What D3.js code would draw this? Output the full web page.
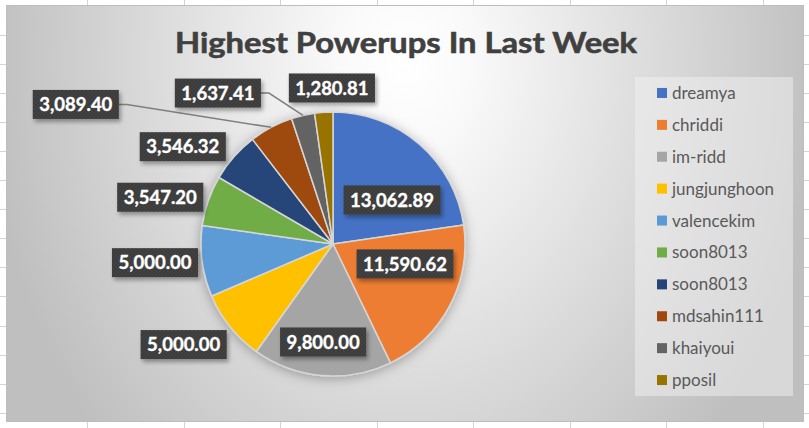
<!DOCTYPE html>
<html>
<head>
<meta charset="utf-8">
<script src="https://cdn.jsdelivr.net/npm/d3@7"></script>
<style>
  html, body { margin: 0; padding: 0; background: #fff; }
  svg { display: block; }
</style>
</head>
<body>
<div id="chart"></div>
<script>
'use strict';

// Chart data
var names = ['dreamya', 'chriddi', 'im-ridd', 'jungjunghoon', 'valencekim',
  'soon8013', 'soon8013', 'mdsahin111', 'khaiyoui', 'pposil'];
var powerups = [13062.89, 11590.62, 9800.00, 5000.00, 5000.00,
  3547.20, 3546.32, 3089.40, 1637.41, 1280.81];
var title = 'Highest Powerups In Last Week';

// Office palette
var colors = ['#4472C4', '#ED7D31', '#A5A5A5', '#FFC000', '#5B9BD5',
  '#70AD47', '#264478', '#9E480E', '#636363', '#997300'];

// Label placement (radius factor and angle nudge from slice middle, degrees)
var labelRadius = [0.558, 0.566, 0.746, 1.364, 1.356, 1.356, 1.356, 2.217, 1.438, 1.182];
var labelNudge = [12.4, -12.5, 0.9, 4.9, 1.6, -4, -8.4, -33.6, -24.2, 3.6];
var hasLeader = [false, false, false, false, false, false, false, true, true, false];

var W = 809, H = 428;
var frame = { x: 6, y: 5, w: 798, h: 417 };
var cx = 333, cy = 244, R = 132;

var svg = d3.select('#chart').append('svg').attr('width', W).attr('height', H);
var defs = svg.append('defs');

// Spreadsheet grid behind the chart
var grid = svg.append('g').attr('stroke', '#d4d4d4').attr('stroke-width', 1);
d3.range(0, 9).forEach(function(k) {
  var x = Math.round(87 + 96.57 * k) + 0.5;
  grid.append('line').attr('x1', x).attr('x2', x).attr('y1', 0).attr('y2', H);
});
d3.range(0, 15).forEach(function(k) {
  var y = Math.round(35 + 29.05 * k) + 0.5;
  grid.append('line').attr('x1', 0).attr('x2', W).attr('y1', y).attr('y2', y);
});

// Chart area background
var bg = defs.append('radialGradient').attr('id', 'bgGrad')
  .attr('gradientUnits', 'userSpaceOnUse')
  .attr('cx', 405).attr('cy', 60).attr('r', 420)
  .attr('gradientTransform', 'translate(405,60) scale(1,1.3) translate(-405,-60)');
bg.append('stop').attr('offset', 0).attr('stop-color', '#ffffff');
bg.append('stop').attr('offset', 0.15).attr('stop-color', '#fafafa');
bg.append('stop').attr('offset', 1).attr('stop-color', '#bfbfbf');

svg.append('rect')
  .attr('x', frame.x).attr('y', frame.y).attr('width', frame.w).attr('height', frame.h)
  .attr('fill', 'url(#bgGrad)');
svg.append('rect')
  .attr('x', frame.x + 0.5).attr('y', frame.y + 0.5).attr('width', frame.w - 1).attr('height', frame.h - 1)
  .attr('fill', 'none').attr('stroke', '#bdbdbd').attr('stroke-width', 1);

// Title
var titleText = svg.append('text')
  .attr('x', 406).attr('y', 53)
  .attr('text-anchor', 'middle')
  .attr('font-family', 'Lato, "Open Sans", sans-serif')
  .attr('font-weight', 'bold')
  .attr('font-size', 28.5)
  .attr('fill', '#404040')
  .attr('stroke', '#404040')
  .attr('stroke-width', 0.6)
  .text(title);
titleText.attr('textLength', 462).attr('lengthAdjust', 'spacingAndGlyphs');

// Filters and pattern
var pieShadow = defs.append('filter').attr('id', 'pieShadow')
  .attr('x', '-20%').attr('y', '-20%').attr('width', '140%').attr('height', '140%');
pieShadow.append('feDropShadow').attr('dx', 0).attr('dy', 2)
  .attr('stdDeviation', 6).attr('flood-color', '#000').attr('flood-opacity', 0.3);

var boxShadow = defs.append('filter').attr('id', 'boxShadow')
  .attr('x', '-20%').attr('y', '-30%').attr('width', '150%').attr('height', '180%');
boxShadow.append('feDropShadow').attr('dx', 2).attr('dy', 3)
  .attr('stdDeviation', 2).attr('flood-color', '#000').attr('flood-opacity', 0.35);

var dots = defs.append('pattern').attr('id', 'dots')
  .attr('patternUnits', 'userSpaceOnUse').attr('width', 4).attr('height', 4);
dots.append('rect').attr('width', 4).attr('height', 4).attr('fill', '#3a3a3a');
dots.append('circle').attr('cx', 1).attr('cy', 1).attr('r', 0.8).attr('fill', '#4b4b4b');
dots.append('circle').attr('cx', 3).attr('cy', 3).attr('r', 0.8).attr('fill', '#4b4b4b');

// Pie
var pie = d3.pie().sort(null).value(function(d) { return d; });
var arcs = pie(powerups);
var arc = d3.arc().innerRadius(0).outerRadius(R);

var pieG = svg.append('g')
  .attr('transform', 'translate(' + cx + ',' + cy + ')')
  .attr('filter', 'url(#pieShadow)');
pieG.selectAll('path')
  .data(arcs)
  .enter().append('path')
  .attr('d', arc)
  .attr('fill', function(d, i) { return colors[i]; })
  .attr('stroke', '#d6d6d6')
  .attr('stroke-width', 1.5)
  .attr('stroke-linejoin', 'round');

// Data labels
var fmt = d3.format(',.2f');
var labelG = svg.append('g').attr('transform', 'translate(' + cx + ',' + cy + ')');

function polar(angle, r) {
  return [r * Math.sin(angle), -r * Math.cos(angle)];
}

arcs.forEach(function(d, i) {
  var mid = (d.startAngle + d.endAngle) / 2;
  var a = mid + labelNudge[i] * Math.PI / 180;
  var p = polar(a, R * labelRadius[i]);

  var g = labelG.append('g');
  var t = g.append('text')
    .attr('x', p[0]).attr('y', p[1])
    .attr('text-anchor', 'middle')
    .attr('dy', '0.36em')
    .attr('font-family', 'Lato, "Open Sans", sans-serif')
    .attr('font-weight', 'bold')
    .attr('font-size', 18.5)
    .attr('fill', '#ffffff')
    .attr('stroke', '#ffffff')
    .attr('stroke-width', 0.35)
    .text(fmt(powerups[i]));
  var tw = t.node().getComputedTextLength();
  var bw = tw + 13, bh = 29;
  g.insert('rect', 'text')
    .attr('x', p[0] - bw / 2).attr('y', p[1] - bh / 2)
    .attr('width', bw).attr('height', bh)
    .attr('fill', 'url(#dots)')
    .attr('filter', 'url(#boxShadow)');

  if (hasLeader[i]) {
    var edge = polar(mid, R);
    var start = [p[0] + bw / 2, p[1]];
    labelG.insert('path', 'g')
      .attr('d', d3.line()([start, [start[0] + 8, start[1]], edge]))
      .attr('fill', 'none')
      .attr('stroke', '#7f7f7f')
      .attr('stroke-width', 1.5);
  }
});

// Legend
var legendBox = { x: 635, y: 77, w: 158, h: 319 };
svg.append('rect')
  .attr('x', legendBox.x).attr('y', legendBox.y)
  .attr('width', legendBox.w).attr('height', legendBox.h)
  .attr('fill', '#f2f2f2').attr('fill-opacity', 0.5);

var ly = d3.scaleBand().domain(d3.range(names.length))
  .range([legendBox.y, legendBox.y + legendBox.h]);

var items = svg.append('g').selectAll('g')
  .data(names)
  .enter().append('g')
  .attr('transform', function(d, i) {
    return 'translate(657,' + (ly(i) + ly.bandwidth() / 2) + ')';
  });
items.append('rect')
  .attr('x', 0).attr('y', -5).attr('width', 10).attr('height', 10)
  .attr('fill', function(d, i) { return colors[i]; });
items.append('text')
  .attr('x', 15).attr('dy', '0.35em')
  .attr('font-family', 'Lato, "Open Sans", sans-serif')
  .attr('font-size', 17)
  .attr('fill', '#595959')
  .text(function(d) { return d; });
</script>
</body>
</html>
